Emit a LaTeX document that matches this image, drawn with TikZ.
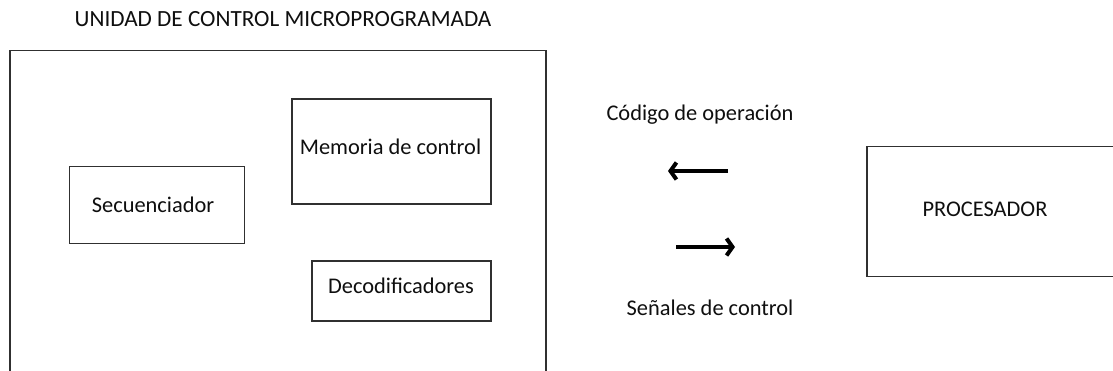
\documentclass[tikz,border=0pt]{standalone}
\usepackage{fontspec}
\setmainfont{Carlito}
\usetikzlibrary{arrows.meta}
\definecolor{txt}{HTML}{0F0F0F}
\definecolor{edge}{HTML}{303030}
\tikzset{
  lbl/.style={inner sep=0pt, anchor=base, text=txt, font=\fontsize{22.4}{27}\selectfont},
  ttl/.style={lbl, font=\fontsize{23.2}{28}\selectfont},
  blk/.style={draw=edge, line width=1.4pt, fill=none},
  bigarrow/.style={line width=4pt, -{Straight Barb[length=6pt,width=17pt,line width=4pt]}}
}
\begin{document}
\begin{tikzpicture}[x=1pt,y=-1pt]
\useasboundingbox (0,0) rectangle (1113,371);
\clip (0,0) rectangle (1113,371);
\fill[white] (0,0) rectangle (1113,371);
% outer control unit frame (open at bottom)
\draw[blk] (10,380) -- (10,50.5) -- (546,50.5) -- (546,380);
\node[ttl] (title) at (283,27) {UNIDAD DE CONTROL MICROPROGRAMADA};
% inner blocks
\node[blk, minimum width=199pt, minimum height=105pt, inner sep=0pt] (mem) at (391.5,151.5) {};
\node[lbl] (memt) at (390.5,155) {Memoria de control};
\node[blk, minimum width=175pt, minimum height=77pt, inner sep=0pt] (sec) at (157,205) {};
\node[lbl] (sect) at (153,213) {Secuenciador};
\node[blk, minimum width=179pt, minimum height=60pt, inner sep=0pt] (dec) at (401.5,291) {};
\node[lbl] (dect) at (401,293) {Decodificadores};
% processor (open at right)
\draw[blk] (1120,146.5) -- (867,146.5) -- (867,276.5) -- (1120,276.5);
\node[lbl] (proc) at (985,217) {PROCESADOR};
% arrows
\node[lbl] (cod) at (700,121) {Código de operación};
\node[lbl] (sen) at (710,315) {Señales de control};
\coordinate (a1s) at (728,171);
\coordinate (a1e) at (668,171);
\coordinate (a2s) at (676,247);
\coordinate (a2e) at (735,247);
\draw[bigarrow] (a1s) -- (a1e);
\draw[bigarrow] (a2s) -- (a2e);
\end{tikzpicture}
\end{document}
